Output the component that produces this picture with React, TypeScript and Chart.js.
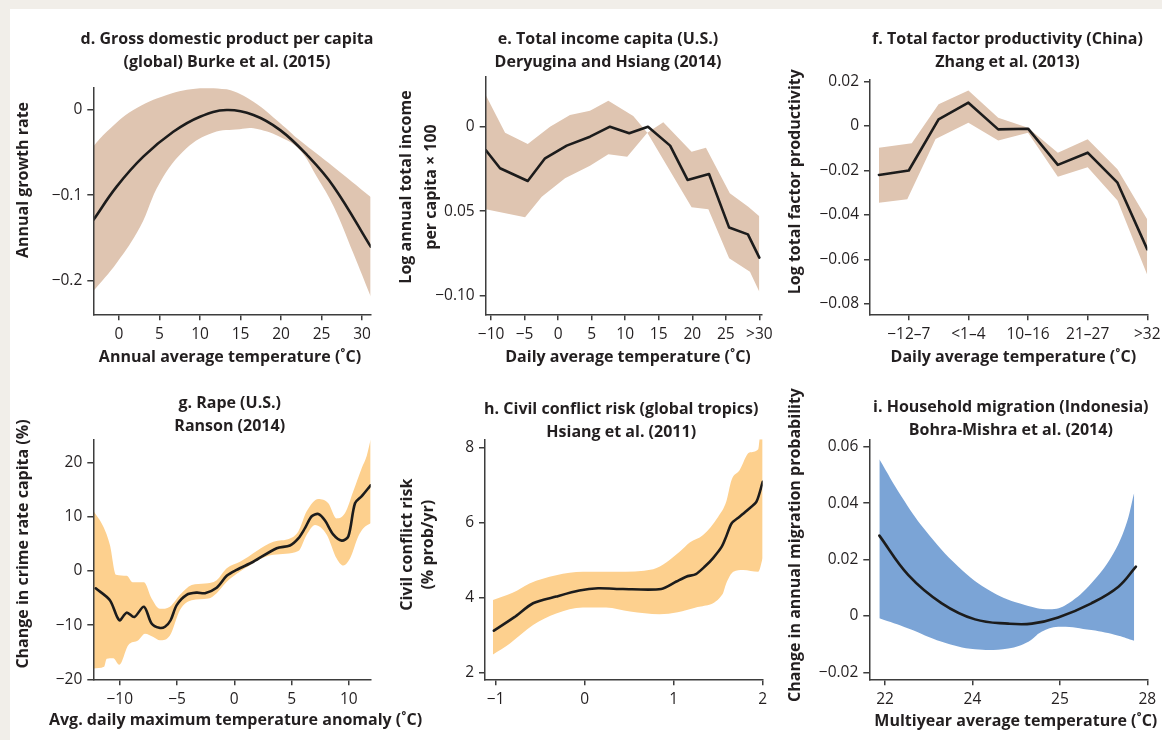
import React, { useEffect, useRef } from 'react';
import { Chart, registerables } from 'chart.js';
Chart.register(...registerables);

const FONT = "'Open Sans', 'Noto Sans', sans-serif";
const TEXT = '#231f20';
const AXIS = '#3d3d3d';
const BEIGE = '#f1eee9';
const TAN = '#dfc5b1';
const ORANGE = '#fdd08e';
const BLUE = '#7ba4d6';
const LINE = '#1c1c1c';

// ---------- d. GDP per capita ----------
const dTitle = ['d. Gross domestic product per capita', '(global) Burke et al. (2015)'];
const dXTitle = 'Annual average temperature (˚C)';
const dYTitle = ['Annual growth rate'];
const dXTicks = [0, 5, 10, 15, 20, 25, 30];
const dXTickLabels = ['0', '5', '10', '15', '20', '25', '30'];
const dYTicks = [0, -0.1, -0.2];
const dYTickLabels = ['0', '−0.1', '−0.2'];
const dLineX = [-3.17, -0.29, 3.0, 6.7, 10.0, 13.3, 16.6, 19.9, 23.2, 26.5, 31.07];
const dLineY = [-0.129, -0.09, -0.055, -0.026, -0.0084, -0.0006, -0.0064, -0.024, -0.053, -0.09, -0.16];
const dUpX = [-3.17, -1.52, 1.77, 5.9, 10, 13.3, 16.6, 19.9, 22.3, 26.5, 31.07];
const dUpY = [-0.043, -0.026, -0.0006, 0.017, 0.0247, 0.0235, 0.009, -0.016, -0.036, -0.067, -0.102];
const dLoX = [-3.17, -0.29, 2.6, 5.06, 8.36, 11.6, 14.9, 16.6, 19.9, 22.3, 24.4, 26.5, 28.9, 31.07];
const dLoY = [-0.212, -0.179, -0.137, -0.085, -0.045, -0.027, -0.023, -0.022, -0.032, -0.047, -0.078, -0.113, -0.167, -0.218];

// ---------- e. Total income ----------
const eTitle = ['e. Total income capita (U.S.)', 'Deryugina and Hsiang (2014)'];
const eXTitle = 'Daily average temperature (˚C)';
const eYTitle = ['Log annual total income', 'per capita × 100'];
const eXTicks = [-10, -5, 0, 5, 10, 15, 20, 25, 30];
const eXTickLabels = ['−10', '−5', '0', '5', '10', '15', '20', '25', '>30'];
const eYTicks = [0, -0.05, -0.1];
const eYTickLabels = ['0', '0.05', '−0.10'];
const eLineX = [-10.8, -8.66, -4.53, -1.95, 1.28, 4.75, 7.73, 10.6, 13.4, 16.7, 19.3, 22.5, 25.5, 28.3, 30];
const eLineY = [-0.0138, -0.0246, -0.0321, -0.0187, -0.0112, -0.0059, 0, -0.0039, 0, -0.0112, -0.0315, -0.028, -0.0597, -0.0637, -0.0775];
const eUpX = [-10.8, -7.91, -4.53, -1.21, 1.77, 4.75, 7.49, 11.2, 13.3, 15.68, 19.9, 22.04, 25.6, 28.35, 30];
const eUpY = [0.0187, -0.0036, -0.0102, 0, 0.0069, 0.0095, 0.0154, 0.0063, -0.0036, 0.0026, -0.0148, -0.0124, -0.0394, -0.0473, -0.053];
const eLoX = [-10.8, -4.93, -2.44, 1.03, 4.75, 7.49, 10.3, 13.3, 19.9, 22.4, 25.5, 28.6, 30];
const eLoY = [-0.0489, -0.0536, -0.0414, -0.0305, -0.0231, -0.0163, -0.0178, -0.0036, -0.0477, -0.0489, -0.0779, -0.0858, -0.0976];

// ---------- f. Total factor productivity ----------
const fTitle = ['f. Total factor productivity (China)', 'Zhang et al. (2013)'];
const fXTitle = 'Daily average temperature (˚C)';
const fYTitle = ['Log total factor productivity'];
const fXTicks = [1, 3, 5, 7, 9];
const fXTickLabels = ['−12–7', '<1–4', '10–16', '21–27', '>32'];
const fYTicks = [0.02, 0, -0.02, -0.04, -0.06, -0.08];
const fYTickLabels = ['0.02', '0', '−0.02', '−0.04', '−0.06', '−0.08'];
const fLineX = [0, 1, 2, 3, 4, 5, 6, 7, 8, 9];
const fLineY = [-0.022, -0.02, 0.003, 0.0105, -0.0015, -0.0012, -0.0175, -0.012, -0.0255, -0.0555];
const fUpX = [0, 1.1, 2, 3, 4, 5, 6, 7, 8, 9];
const fUpY = [-0.0098, -0.0077, 0.0098, 0.016, 0.0037, -0.0008, -0.012, -0.006, -0.0195, -0.042];
const fLoX = [0, 0.95, 1.9, 3, 4, 5, 6, 7, 8, 9];
const fLoY = [-0.0345, -0.033, -0.0058, 0.0015, -0.0065, -0.003, -0.0228, -0.0185, -0.0335, -0.067];

// ---------- g. Rape ----------
const gTitle = ['g. Rape (U.S.)', 'Ranson (2014)'];
const gXTitle = 'Avg. daily maximum temperature anomaly (˚C)';
const gYTitle = ['Change in crime rate capita (%)'];
const gXTicks = [-10, -5, 0, 5, 10];
const gXTickLabels = ['−10', '−5', '0', '5', '10'];
const gYTicks = [20, 10, 0, -10, -20];
const gYTickLabels = ['20', '10', '0', '−10', '−20'];
const gLineX = [-12.1, -10.86, -10.04, -9.4, -8.73, -7.89, -7.22, -6.55, -6.05, -5.56, -5.03, -4.16, -3.28, -2.56, -1.54, -0.66, 0.2, 1.66, 3.7, 4.86, 5.59, 6.17, 6.76, 7.34, 7.92, 8.65, 9.38, 9.96, 10.54, 11.13, 11.9];
const gLineY = [-3.2, -5.4, -9.1, -7.7, -8.5, -6.6, -9.7, -10.5, -10.3, -9.1, -6.3, -4.4, -4.0, -4.1, -3.1, -0.9, 0.2, 1.7, 4.2, 4.7, 6.0, 7.9, 10.1, 10.5, 9.3, 6.7, 5.6, 6.4, 12.5, 13.8, 15.8];
const gUpX = [-12.3, -11.44, -10.86, -10.33, -9.4, -8.87, -7.89, -7.22, -6.49, -5.62, -4.74, -3.72, -2.56, -1.54, -0.66, 0.5, 3.41, 4.86, 5.59, 6.32, 7.34, 8.21, 8.94, 9.67, 10.39, 11.13, 11.56, 11.91];
const gUpY = [11.1, 8.2, 4.8, -0.7, -0.9, -2.1, -2.1, -5.1, -7.0, -6.6, -4.4, -2.6, -2.3, -1.7, 0.5, 1.7, 5.4, 6.0, 7.3, 11.0, 13.3, 12.5, 9.7, 10.7, 14.7, 19.0, 21.2, 24.3];
const gLoX = [-12.3, -11.37, -11.14, -10.57, -10.04, -9.26, -8.38, -7.8, -7.07, -6.49, -5.62, -4.74, -3.72, -2.27, -1.54, -0.66, 0.5, 3.41, 5.59, 6.32, 7.05, 8.07, 8.94, 9.52, 10.1, 10.83, 11.27, 11.91];
const gLoY = [-18.0, -17.7, -16.2, -16.1, -17.3, -13.7, -12.8, -11.6, -12.2, -12.8, -11.9, -7.2, -5.4, -5.1, -4.1, -2.0, -0.1, 3.0, 3.7, 6.7, 8.5, 6.7, 2.3, 1.0, 2.3, 6.4, 7.9, 8.8];

// ---------- h. Civil conflict ----------
const hTitle = ['h. Civil conflict risk (global tropics)', 'Hsiang et al. (2011)'];
const hYTitle = ['Civil conflict risk', '(% prob/yr)'];
const hXTicks = [-1, 0, 1, 2];
const hXTickLabels = ['−1', '0', '1', '2'];
const hYTicks = [8, 6, 4, 2];
const hYTickLabels = ['8', '6', '4', '2'];
const hLineX = [-1.02, -0.79, -0.58, -0.32, -0.06, 0.15, 0.43, 0.86, 1.03, 1.14, 1.25, 1.35, 1.44, 1.54, 1.59, 1.65, 1.74, 1.83, 1.93, 2.0];
const hLineY = [3.11, 3.47, 3.84, 4.02, 4.18, 4.24, 4.22, 4.22, 4.42, 4.55, 4.62, 4.82, 5.04, 5.35, 5.62, 5.97, 6.15, 6.33, 6.55, 7.08];
const hUpX = [-1.03, -0.81, -0.62, -0.32, -0.02, 0.36, 0.77, 1.07, 1.18, 1.33, 1.5, 1.59, 1.65, 1.74, 1.85, 1.95, 1.97, 2.0];
const hUpY = [3.93, 4.12, 4.37, 4.59, 4.68, 4.68, 4.75, 5.22, 5.46, 5.66, 6.15, 6.55, 7.13, 7.39, 7.86, 7.95, 8.28, 8.3];
const hLoX = [-1.04, -0.84, -0.58, -0.32, -0.02, 0.24, 0.51, 0.84, 1.25, 1.55, 1.59, 1.67, 1.78, 1.95, 2.0];
const hLoY = [2.46, 2.77, 3.26, 3.57, 3.73, 3.73, 3.62, 3.55, 3.73, 4.09, 4.37, 4.68, 4.73, 4.68, 5.04];

// ---------- i. Household migration ----------
const iTitle = ['i. Household migration (Indonesia)', 'Bohra-Mishra et al. (2014)'];
const iXTitle = 'Multiyear average temperature (˚C)';
const iYTitle = ['Change in annual migration probability'];
const iXTicks = [0, 1, 2, 3];
const iXTickLabels = ['22', '24', '25', '28'];
const iYTicks = [0.06, 0.04, 0.02, 0, -0.02];
const iYTickLabels = ['0.06', '0.04', '0.02', '0', '−0.02'];
const iLineX = [-0.065, 0.267, 0.649, 1.03, 1.41, 1.68, 1.98, 2.36, 2.67, 2.87];
const iLineY = [0.0285, 0.0145, 0.0045, -0.0012, -0.0027, -0.0027, -0.0005, 0.0045, 0.0104, 0.0175];
const iUpX = [-0.065, 0.19, 0.458, 0.839, 1.22, 1.6, 1.91, 2.1, 2.36, 2.59, 2.75, 2.85];
const iUpY = [0.0556, 0.0423, 0.0305, 0.0175, 0.0086, 0.0039, 0.0024, 0.0045, 0.0116, 0.021, 0.0317, 0.0437];
const iLoX = [-0.065, 0.267, 0.649, 1.03, 1.41, 1.64, 1.79, 1.98, 2.36, 2.67, 2.85];
const iLoY = [-0.0008, -0.0044, -0.0091, -0.0118, -0.0115, -0.0091, -0.0056, -0.0038, -0.005, -0.007, -0.0088];

type Smooth = 'monotone' | number;
type Panel = {
  key: string;
  box: [number, number, number, number];
  area: [number, number, number, number];
  title: string[];
  titleAt: [number, number];
  xTitle?: string;
  xTitleAt?: [number, number];
  yTitle: string[];
  yTitleAt: [number, number];
  yTitleLH: number;
  xRange: [number, number];
  xTicks: number[];
  xLabels: string[];
  yRange: [number, number];
  yTicks: number[];
  yLabels: string[];
  lineX: number[]; lineY: number[];
  upX: number[]; upY: number[];
  loX: number[]; loY: number[];
  band: string;
  smooth: Smooth;
  bandSmooth: Smooth;
};

const panels: Panel[] = [
  {
    key: 'd', box: [10, 0, 375, 372], area: [93.3, 88, 370.7, 314.3],
    title: dTitle, titleAt: [227, 39], xTitle: dXTitle, xTitleAt: [230, 357],
    yTitle: dYTitle, yTitleAt: [23.3, 180], yTitleLH: 23,
    xRange: [-3.17, 31.07], xTicks: dXTicks, xLabels: dXTickLabels,
    yRange: [-0.2389, 0.0251], yTicks: dYTicks, yLabels: dYTickLabels,
    lineX: dLineX, lineY: dLineY, upX: dUpX, upY: dUpY, loX: dLoX, loY: dLoY,
    band: TAN, smooth: 0.4, bandSmooth: 0.4,
  },
  {
    key: 'e', box: [390, 0, 385, 372], area: [485.7, 77, 762, 314.3],
    title: eTitle, titleAt: [608, 39], xTitle: eXTitle, xTitleAt: [628, 357],
    yTitle: eYTitle, yTitleAt: [406.7, 187], yTitleLH: 25,
    xRange: [-10.8, 30.4], xTicks: eXTicks, xLabels: eXTickLabels,
    yRange: [-0.111, 0.0294], yTicks: eYTicks, yLabels: eYTickLabels,
    lineX: eLineX, lineY: eLineY, upX: eUpX, upY: eUpY, loX: eLoX, loY: eLoY,
    band: TAN, smooth: 0, bandSmooth: 0,
  },
  {
    key: 'f', box: [775, 0, 387, 372], area: [870, 80, 1147.3, 314.3],
    title: fTitle, titleAt: [1007.5, 39.3], xTitle: fXTitle, xTitleAt: [1013.3, 357],
    yTitle: fYTitle, yTitleAt: [795, 181.7], yTitleLH: 23,
    xRange: [-0.3, 9], xTicks: fXTicks, xLabels: fXTickLabels,
    yRange: [-0.0847, 0.0207], yTicks: fYTicks, yLabels: fYTickLabels,
    lineX: fLineX, lineY: fLineY, upX: fUpX, upY: fUpY, loX: fLoX, loY: fLoY,
    band: TAN, smooth: 0, bandSmooth: 0,
  },
  {
    key: 'g', box: [10, 370, 430, 370], area: [93.3, 439.3, 370.7, 679.3],
    title: gTitle, titleAt: [229.7, 403.3], xTitle: gXTitle, xTitleAt: [235.5, 720.7],
    yTitle: gYTitle, yTitleAt: [23.3, 544], yTitleLH: 23,
    xRange: [-12.31, 11.91], xTicks: gXTicks, xLabels: gXTickLabels,
    yRange: [-20, 24.3], yTicks: gYTicks, yLabels: gYTickLabels,
    lineX: gLineX, lineY: gLineY, upX: gUpX, upY: gUpY, loX: gLoX, loY: gLoY,
    band: ORANGE, smooth: 0.3, bandSmooth: 'monotone',
  },
  {
    key: 'h', box: [390, 370, 385, 370], area: [485, 439.3, 762.7, 679.3],
    title: hTitle, titleAt: [621.2, 409.3],
    yTitle: hYTitle, yTitleAt: [407.3, 544.7], yTitleLH: 21,
    xRange: [-1.12, 2.0], xTicks: hXTicks, xLabels: hXTickLabels,
    yRange: [1.813, 8.213], yTicks: hYTicks, yLabels: hYTickLabels,
    lineX: hLineX, lineY: hLineY, upX: hUpX, upY: hUpY, loX: hLoX, loY: hLoY,
    band: ORANGE, smooth: 0.25, bandSmooth: 'monotone',
  },
  {
    key: 'i', box: [775, 370, 387, 370], area: [869.3, 440, 1147.3, 679.3],
    title: iTitle, titleAt: [1010.8, 407.3], xTitle: iXTitle, xTitleAt: [1015.8, 721],
    yTitle: iYTitle, yTitleAt: [795.7, 545], yTitleLH: 23,
    xRange: [-0.18, 3.0], xTicks: iXTicks, xLabels: iXTickLabels,
    yRange: [-0.02245, 0.0624], yTicks: iYTicks, yLabels: iYTickLabels,
    lineX: iLineX, lineY: iLineY, upX: iUpX, upY: iUpY, loX: iLoX, loY: iLoY,
    band: BLUE, smooth: 0.4, bandSmooth: 0.4,
  },
];

const LH = 23;
const LAB_SIZE = 16;
const TICK_SIZE = 15.5;

function interp(s: Smooth) {
  return s === 'monotone'
    ? { cubicInterpolationMode: 'monotone', tension: 0 }
    : { cubicInterpolationMode: 'default', tension: s };
}

function buildConfig(p: Panel): any {
  const [CL, CT, W, H] = p.box;
  const [L, T, R, B] = p.area;
  const pts = (xs: number[], ys: number[]) => xs.map((x, i) => ({ x, y: ys[i] }));
  const tickFont = { family: FONT, size: TICK_SIZE, weight: '400' };
  const labFont = { family: FONT, size: LAB_SIZE, weight: 'bold', lineHeight: LH / LAB_SIZE };

  const place = {
    id: 'place' + p.key,
    afterLayout(chart: any) {
      const tb = chart.titleBlock;
      if (tb) {
        const cx = p.titleAt[0] - CL;
        tb.left = cx - 300;
        tb.right = cx + 300;
        tb.top = p.titleAt[1] - CT - LH / 2;
        tb.bottom = tb.top + 2 * LH;
      }
      const x2 = chart.scales.x2;
      if (x2 && p.xTitleAt) {
        const cx = p.xTitleAt[0] - CL;
        x2.left = cx - 300;
        x2.right = cx + 300;
        x2.bottom = p.xTitleAt[1] - CT + LH / 2;
        x2.top = x2.bottom - LH;
      }
      const y2 = chart.scales.y2;
      if (y2) {
        const lh = p.yTitleLH;
        y2.left = p.yTitleAt[0] - CL - lh / 2;
        y2.right = y2.left + lh * p.yTitle.length;
        const cy = p.yTitleAt[1] - CT;
        y2.top = cy - 300;
        y2.bottom = cy + 300;
      }
    },
  };

  const hiddenBase = {
    type: 'linear',
    display: true,
    weight: 5,
    ticks: { display: false },
    grid: { display: false, drawTicks: false },
    border: { display: false },
  };

  return {
    type: 'line',
    data: {
      datasets: [
        {
          data: pts(p.lineX, p.lineY),
          borderColor: LINE, borderWidth: 2.6, pointRadius: 0, fill: false,
          xAxisID: 'x', yAxisID: 'y', borderCapStyle: 'round', borderJoinStyle: 'round',
          ...interp(p.smooth),
        },
        {
          data: pts(p.upX, p.upY),
          borderColor: 'rgba(0,0,0,0)', borderWidth: 0, pointRadius: 0,
          backgroundColor: p.band, fill: '+1',
          xAxisID: 'x', yAxisID: 'y',
          ...interp(p.bandSmooth),
        },
        {
          data: pts(p.loX, p.loY),
          borderColor: 'rgba(0,0,0,0)', borderWidth: 0, pointRadius: 0,
          backgroundColor: p.band, fill: false,
          xAxisID: 'x', yAxisID: 'y',
          ...interp(p.bandSmooth),
        },
      ],
    },
    options: {
      responsive: false,
      maintainAspectRatio: false,
      animation: false,
      devicePixelRatio: 1,
      events: [],
      layout: { padding: { left: 0, top: 0, bottom: 0, right: CL + W - R } },
      plugins: {
        legend: { display: false },
        tooltip: { enabled: false },
        title: {
          display: true,
          text: p.title,
          fullSize: false,
          font: labFont,
          color: TEXT,
          padding: { top: 0, bottom: T - CT - 2 * LH },
        },
      },
      scales: {
        x: {
          type: 'linear',
          position: 'bottom',
          min: p.xRange[0],
          max: p.xRange[1],
          afterBuildTicks: (s: any) => { s.ticks = p.xTicks.map((v) => ({ value: v })); },
          afterFit: (s: any) => { s.height = CT + H - B; s.paddingLeft = 0; s.paddingRight = 0; },
          ticks: {
            autoSkip: false, maxRotation: 0, minRotation: 0, padding: 5,
            font: tickFont, color: TEXT,
            callback: (_v: any, i: number) => p.xLabels[i],
          },
          grid: { display: true, drawOnChartArea: false, drawTicks: true, tickLength: 6, color: AXIS, lineWidth: 1.5 },
          border: { display: true, color: AXIS, width: 1.5, z: 1 },
          title: { display: false },
        },
        y: {
          type: 'linear',
          position: 'left',
          min: p.yRange[0],
          max: p.yRange[1],
          afterBuildTicks: (s: any) => { s.ticks = p.yTicks.map((v) => ({ value: v })); },
          afterFit: (s: any) => { s.width = L - CL; s.paddingTop = 0; s.paddingBottom = 0; },
          ticks: {
            autoSkip: false, padding: 5,
            font: tickFont, color: TEXT,
            callback: (_v: any, i: number) => p.yLabels[i],
          },
          grid: { display: true, drawOnChartArea: false, drawTicks: true, tickLength: 6, color: AXIS, lineWidth: 1.5 },
          border: { display: true, color: AXIS, width: 1.5, z: 1 },
          title: { display: false },
        },
        x2: {
          ...hiddenBase,
          position: 'bottom',
          title: { display: !!p.xTitle, text: p.xTitle || '', font: labFont, color: TEXT, padding: 0 },
          afterFit: (s: any) => { s.height = 0; s.paddingLeft = 0; s.paddingRight = 0; },
        },
        y2: {
          ...hiddenBase,
          position: 'left',
          title: {
            display: true, text: p.yTitle, color: TEXT, padding: 0,
            font: { family: FONT, size: LAB_SIZE, weight: 'bold', lineHeight: p.yTitleLH / LAB_SIZE },
          },
          afterFit: (s: any) => { s.width = 0; s.paddingTop = 0; s.paddingBottom = 0; },
        },
      },
    },
    plugins: [place],
  };
}

function PanelChart({ p }: { p: Panel }) {
  const ref = useRef<HTMLCanvasElement>(null);
  useEffect(() => {
    const chart = new Chart(ref.current as HTMLCanvasElement, buildConfig(p));
    let alive = true;
    const fonts = (document as any).fonts;
    if (fonts && fonts.load) {
      Promise.all([
        fonts.load(`bold 16px "Open Sans"`),
        fonts.load(`400 15px "Open Sans"`),
      ]).then(() => { if (alive) chart.update(); }).catch(() => {});
    }
    return () => { alive = false; chart.destroy(); };
  }, []);
  const [CL, CT, W, H] = p.box;
  return (
    <canvas
      ref={ref}
      width={W}
      height={H}
      style={{ position: 'absolute', left: CL, top: CT, width: W, height: H }}
    />
  );
}

export default function App() {
  return (
    <div style={{ position: 'fixed', left: 0, top: 0, width: 1162, height: 740, background: BEIGE, overflow: 'hidden' }}>
      <div style={{ position: 'absolute', left: 10, top: 9, right: 0, bottom: 0, background: '#ffffff' }} />
      {panels.map((p) => <PanelChart key={p.key} p={p} />)}
    </div>
  );
}
